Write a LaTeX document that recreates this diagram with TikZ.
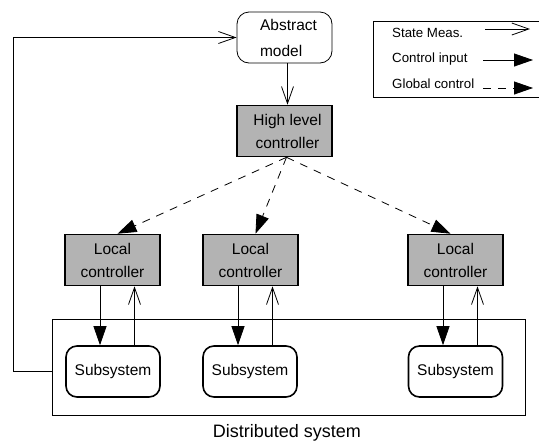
\documentclass[tikz,border=0pt]{standalone}
\usepackage{fontspec}
\setmainfont{Liberation Sans}
\usetikzlibrary{arrows.meta}
\definecolor{boxgray}{HTML}{B3B3B3}

\tikzset{
  block/.style={draw, line width=1.6pt, fill=boxgray, minimum width=95pt, minimum height=51pt,
    align=center, inner sep=0pt, font=\fontsize{15.5}{23}\selectfont},
  subbox/.style={draw, line width=1.6pt, rounded corners=11pt, minimum width=94pt, minimum height=51pt,
    inner sep=0pt, font=\fontsize{15.5}{23}\selectfont},
  modelbox/.style={draw, line width=0.8pt, rounded corners=12pt, minimum width=95pt, minimum height=51pt,
    align=left, inner sep=0pt, font=\fontsize{15.5}{26}\selectfont},
  meas/.style={line width=0.8pt, -{Straight Barb[length=17pt,width=12pt,line width=0.8pt]}},
  ctrl/.style={line width=0.8pt, -{Triangle[length=19pt,width=13pt]}},
  glob/.style={line width=0.8pt, dash pattern=on 8pt off 7pt, -{Triangle[length=19pt,width=13pt]}},
  legtext/.style={anchor=west, inner sep=0pt, font=\fontsize{13.3}{16}\selectfont}
}

\begin{document}
\begin{tikzpicture}[x=1pt,y=-1pt]
  \useasboundingbox (0,0) rectangle (539,445);

  \node [modelbox] (model) at (284.5,37.5) {\hspace*{8pt}Abstract\\\hspace*{8pt}model};
  \node [block] (high) at (284.5,131) {\hspace*{6pt}High level\\\hspace*{6pt}controller};

  \node [draw, line width=0.8pt, minimum width=473pt, minimum height=96pt, inner sep=0pt] (dist) at (288.5,367) {};
  \node [font=\fontsize{18}{20}\selectfont, inner sep=0pt] (distlabel) at (287,433) {Distributed system};

  \node [block] (local1) at (112.5,260) {Local\\controller};
  \node [block] (local2) at (250.5,260) {Local\\controller};
  \node [block] (local3) at (455.5,260) {Local\\controller};

  \node [subbox] (sub1) at (113,371.5) {Subsystem};
  \node [subbox] (sub2) at (250,371.5) {Subsystem};
  \node [subbox] (sub3) at (455.5,371.5) {Subsystem};

  \draw [meas] ([xshift=3pt]model.south) -- ([xshift=3pt]high.north);
  \draw [meas] (dist.west |- sub1) -- ++(-38,0) |- (model.west);

  \draw [glob] ([xshift=2pt]high.south) -- ([xshift=5pt]local1.north);
  \draw [glob] ([xshift=2pt]high.south) -- ([xshift=5pt]local2.north);
  \draw [glob] ([xshift=2pt]high.south) -- ([xshift=-5pt]local3.north);

  \foreach \i in {1,2,3} {
    \draw [ctrl] ([xshift=-12.5pt]local\i.south) -- ([xshift=-12.5pt]local\i.south |- sub\i.north);
    \draw [meas] ([xshift=22pt]local\i.south |- sub\i.north) -- ([xshift=22pt]local\i.south);
  }

  \draw [line width=0.8pt] (539,21) -- (373,21) -- (373,97) -- (539,97);
  \node [legtext] (legmeas) at (392,33) {State Meas.};
  \node [legtext] (legctrl) at (392,59) {Control input};
  \node [legtext] (legglob) at (392,84) {Global control};
  \coordinate (measA) at (485,29);
  \coordinate (measB) at (530,29);
  \coordinate (ctrlA) at (483,60);
  \coordinate (ctrlB) at (533,60);
  \coordinate (globA) at (483,88);
  \coordinate (globB) at (533,88);
  \draw [meas] (measA) -- (measB);
  \draw [ctrl] (ctrlA) -- (ctrlB);
  \draw [glob] (globA) -- (globB);
\end{tikzpicture}
\end{document}
